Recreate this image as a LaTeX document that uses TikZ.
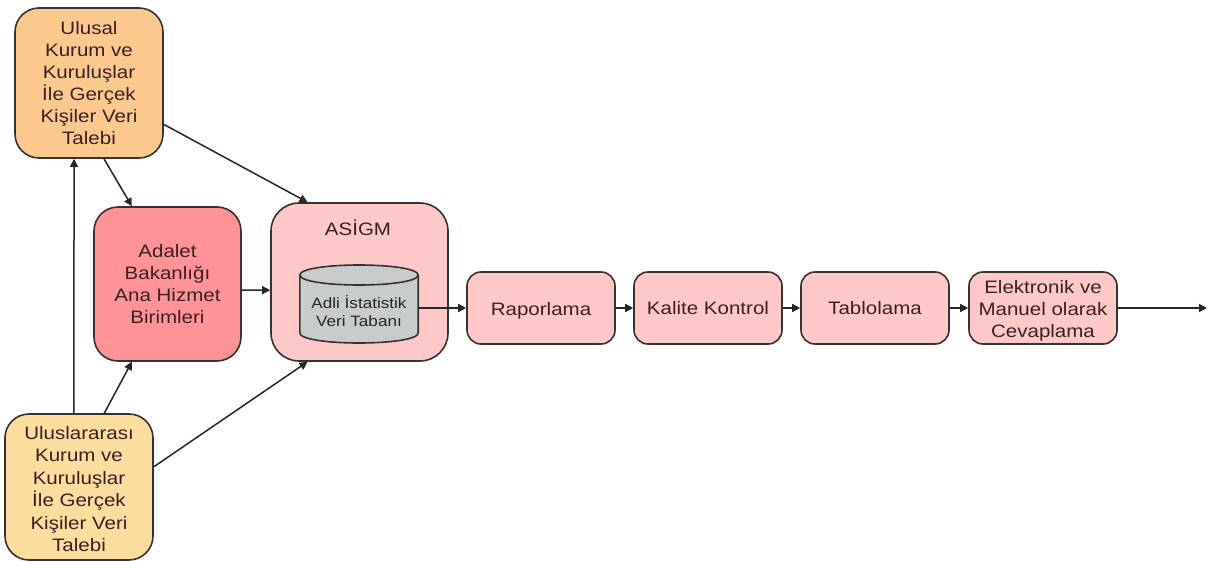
\documentclass[tikz,border=0pt]{standalone}
\usepackage{fontspec}
\setmainfont[FakeStretch=1.14]{Liberation Sans}
\usetikzlibrary{calc,arrows.meta}
\definecolor{linec}{HTML}{3A3030}
\definecolor{txtc}{HTML}{3A2020}
\definecolor{orangec}{HTML}{FBC98E}
\definecolor{redc}{HTML}{FF9396}
\definecolor{pinkc}{HTML}{FFC8C8}
\definecolor{yellowc}{HTML}{FCDD9E}
\definecolor{grayc}{HTML}{C9CCCC}
\tikzset{
  x=1pt,y=-1pt,
  box/.style={draw=linec,line width=1.6pt,align=center,inner sep=0pt,text=txtc,font=\fontsize{18}{22}\selectfont},
  conn/.style={draw=black!85,line width=1.5pt,-{Triangle[length=8pt,width=8pt]}},
}
\newcommand{\boxat}[7]{% name, x1,y1,x2,y2, radius, style
  \node[box,rounded corners=#6,#7,minimum width=#4-#2,minimum height=#5-#3] (#1) at ({(#2+#4)/2},{(#3+#5)/2})}
\begin{document}
\begin{tikzpicture}
\useasboundingbox (0,0) rectangle (1207,560);
\fill[white] (0,0) rectangle (1207,560);
\boxat{ulusal}{15}{8}{163}{158}{24pt}{fill=orangec}
  {Ulusal\\Kurum ve\\Kuruluşlar\\İle Gerçek\\Kişiler Veri\\Talebi};
\boxat{adalet}{94}{207}{241}{361}{24pt}{fill=redc}
  {Adalet\\Bakanlığı\\Ana Hizmet\\Birimleri};
\boxat{asigm}{271}{203}{448}{361}{28pt}{fill=pinkc}{};
\node[text=txtc,font=\fontsize{18}{20}\selectfont] (asigmt) at (358,228) {ASİGM};
\node[inner sep=0pt,minimum width=118pt,minimum height=78pt] (db) at (359,304) {};
\filldraw[draw=linec,line width=1.6pt,fill=grayc]
  (db.west|-0,275) .. controls (300,268.5) and (329,265) .. (359,265)
  .. controls (389,265) and (418,268.5) .. (db.east|-0,275)
  -- (db.east|-0,333) .. controls (418,339.5) and (389,343) .. (359,343)
  .. controls (329,343) and (300,339.5) .. (db.west|-0,333) -- cycle;
\draw[linec,line width=1.6pt] (db.west|-0,275) .. controls (300,281.5) and (329,285) .. (359,285)
  .. controls (389,285) and (418,281.5) .. (db.east|-0,275);
\node[align=center,text=black!85,font=\fontsize{15}{17.5}\selectfont] (dbt) at (359,311) {Adli İstatistik\\Veri Tabanı};
\boxat{rapor}{467}{272}{615}{344}{14pt}{fill=pinkc}{\rule{0pt}{18pt}Raporlama};
\boxat{kalite}{634}{272}{782}{344}{14pt}{fill=pinkc}{Kalite Kontrol};
\boxat{tablo}{801}{272}{949}{344}{14pt}{fill=pinkc}{Tablolama};
\boxat{elek}{969}{272}{1117}{344}{14pt}{fill=pinkc}{\rule{0pt}{18pt}Elektronik ve\\Manuel olarak\\Cevaplama};
\boxat{ulusl}{5}{414}{153}{560}{24pt}{fill=yellowc,font=\fontsize{18}{22.5}\selectfont}
  {\rule{0pt}{17pt}Uluslararası\\Kurum ve\\Kuruluşlar\\İle Gerçek\\Kişiler Veri\\Talebi};
\coordinate (end) at (1207,308);
\path[conn] ($(ulusl.north west)!.466!(ulusl.north east)$) -- ($(ulusal.south west)!.4!(ulusal.south east)$);
\path[conn] ($(ulusal.south west)!.6!(ulusal.south east)$) -- ($(adalet.north west)!.26!(adalet.north east)$);
\path[conn] ($(ulusal.north east)!.773!(ulusal.south east)$) -- ($(asigm.north west)!.209!(asigm.north east)$);
\path[conn] ($(ulusl.north west)!.669!(ulusl.north east)$) -- ($(adalet.south west)!.26!(adalet.south east)$);
\path[conn] ($(ulusl.north east)!.363!(ulusl.south east)$) -- ($(asigm.south west)!.209!(asigm.south east)$);
\path[conn] ($(adalet.north east)!.539!(adalet.south east)$) -- ($(asigm.north west)!.551!(asigm.south west)$);
\path[conn] (db.east|-rapor.west) -- (rapor.west);
\path[conn] (rapor.east) -- (kalite.west);
\path[conn] (kalite.east) -- (tablo.west);
\path[conn] (tablo.east) -- (elek.west);
\path[conn] (elek.east) -- (end);
\end{tikzpicture}
\end{document}
